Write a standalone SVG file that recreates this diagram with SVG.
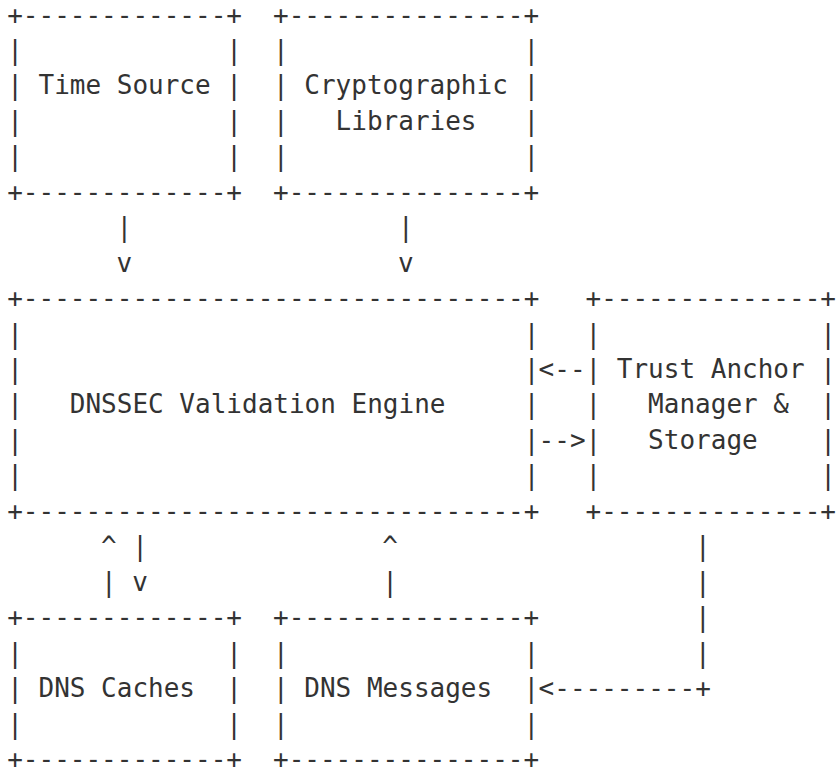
<svg xmlns="http://www.w3.org/2000/svg" width="840" height="774" viewBox="0 0 840 774">
<style>
text{font-family:"DejaVu Sans Mono","Liberation Mono",monospace;font-size:26px;fill:#333;white-space:pre}
</style>
<rect width="840" height="774" fill="#fff"/>
<g id="time-source" xml:space="preserve">
<text x="7.2" y="23.5">+-------------+</text>
<text x="7.2" y="58.95">|             |</text>
<text x="7.2" y="94.4">| Time Source |</text>
<text x="7.2" y="129.85">|             |</text>
<text x="7.2" y="165.3">|             |</text>
<text x="7.2" y="200.75">+-------------+</text>
</g>
<g id="crypto-libraries" xml:space="preserve">
<text x="273" y="23.5">+---------------+</text>
<text x="273" y="58.95">|               |</text>
<text x="273" y="94.4">| Cryptographic |</text>
<text x="273" y="129.85">|   Libraries   |</text>
<text x="273" y="165.3">|               |</text>
<text x="273" y="200.75">+---------------+</text>
</g>
<g id="validation-engine" xml:space="preserve">
<text x="7.2" y="307.1">+--------------------------------+</text>
<text x="7.2" y="342.55">|                                |</text>
<text x="7.2" y="378.0">|                                |</text>
<text x="7.2" y="413.45">|   DNSSEC Validation Engine     |</text>
<text x="7.2" y="448.9">|                                |</text>
<text x="7.2" y="484.35">|                                |</text>
<text x="7.2" y="519.8">+--------------------------------+</text>
</g>
<g id="trust-anchor" xml:space="preserve">
<text x="585.5" y="307.1">+--------------+</text>
<text x="585.5" y="342.55">|              |</text>
<text x="585.5" y="378.0">| Trust Anchor |</text>
<text x="585.5" y="413.45">|   Manager &amp;  |</text>
<text x="585.5" y="448.9">|   Storage    |</text>
<text x="585.5" y="484.35">|              |</text>
<text x="585.5" y="519.8">+--------------+</text>
</g>
<g id="dns-caches" xml:space="preserve">
<text x="7.2" y="626.15">+-------------+</text>
<text x="7.2" y="661.6">|             |</text>
<text x="7.2" y="697.05">| DNS Caches  |</text>
<text x="7.2" y="732.5">|             |</text>
<text x="7.2" y="767.95">+-------------+</text>
</g>
<g id="dns-messages" xml:space="preserve">
<text x="273" y="626.15">+---------------+</text>
<text x="273" y="661.6">|               |</text>
<text x="273" y="697.05">| DNS Messages  |</text>
<text x="273" y="732.5">|               |</text>
<text x="273" y="767.95">+---------------+</text>
</g>
<g id="connectors" xml:space="preserve">
<text x="116.6" y="236.2">|</text>
<text x="116.6" y="271.65">v</text>
<text x="397.9" y="236.2">|</text>
<text x="397.9" y="271.65">v</text>
<text x="538.6" y="378.0">&lt;--</text>
<text x="538.6" y="448.9">--&gt;</text>
<text x="101" y="555.25">^ |</text>
<text x="101" y="590.7">| v</text>
<text x="382.3" y="555.25">^</text>
<text x="382.3" y="590.7">|</text>
<text x="695" y="555.25">|</text>
<text x="695" y="590.7">|</text>
<text x="695" y="626.15">|</text>
<text x="695" y="661.6">|</text>
<text x="538.6" y="697.05">&lt;---------+</text>
</g>
</svg>
